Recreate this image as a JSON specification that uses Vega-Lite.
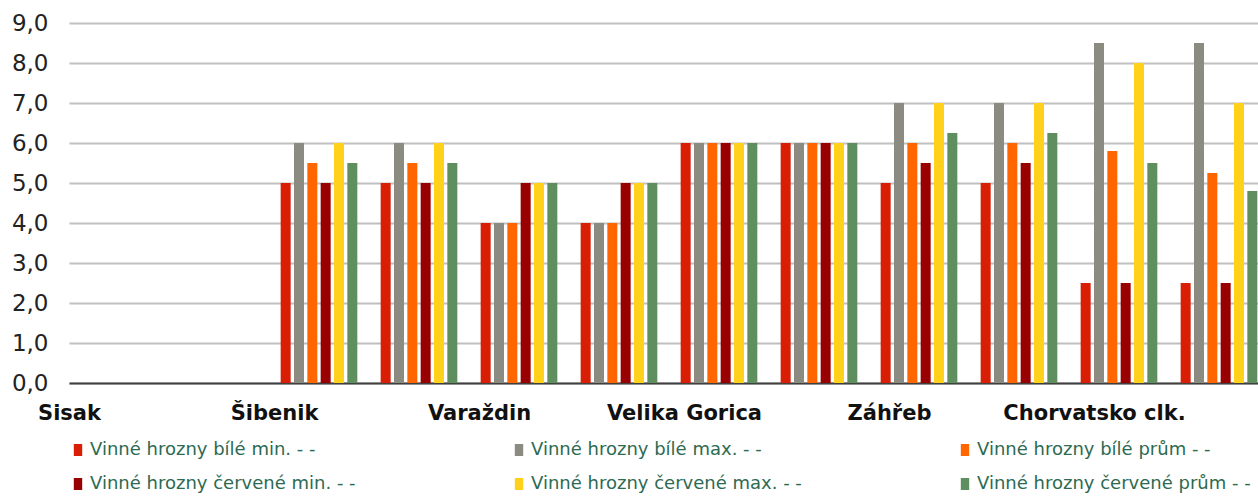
{
  "$schema": "https://vega.github.io/schema/vega-lite/v6.json",
  "width": 1189,
  "height": 360,
  "padding": {"left": 5, "top": 12, "right": 0, "bottom": 0},
  "config": {
    "view": {"stroke": null},
    "font": "DejaVu Sans"
  },
  "data": {
    "values": [
      {"kat": "Šibenik 1", "mesto": "Šibenik", "rada": "Vinné hrozny bílé min. - -", "hodnota": 5},
      {"kat": "Šibenik 1", "mesto": "Šibenik", "rada": "Vinné hrozny bílé max. - -", "hodnota": 6},
      {"kat": "Šibenik 1", "mesto": "Šibenik", "rada": "Vinné hrozny bílé prům - -", "hodnota": 5.5},
      {"kat": "Šibenik 1", "mesto": "Šibenik", "rada": "Vinné hrozny červené min. - -", "hodnota": 5},
      {"kat": "Šibenik 1", "mesto": "Šibenik", "rada": "Vinné hrozny červené max. - -", "hodnota": 6},
      {"kat": "Šibenik 1", "mesto": "Šibenik", "rada": "Vinné hrozny červené prům - -", "hodnota": 5.5},
      {"kat": "Šibenik 2", "mesto": "Šibenik", "rada": "Vinné hrozny bílé min. - -", "hodnota": 5},
      {"kat": "Šibenik 2", "mesto": "Šibenik", "rada": "Vinné hrozny bílé max. - -", "hodnota": 6},
      {"kat": "Šibenik 2", "mesto": "Šibenik", "rada": "Vinné hrozny bílé prům - -", "hodnota": 5.5},
      {"kat": "Šibenik 2", "mesto": "Šibenik", "rada": "Vinné hrozny červené min. - -", "hodnota": 5},
      {"kat": "Šibenik 2", "mesto": "Šibenik", "rada": "Vinné hrozny červené max. - -", "hodnota": 6},
      {"kat": "Šibenik 2", "mesto": "Šibenik", "rada": "Vinné hrozny červené prům - -", "hodnota": 5.5},
      {"kat": "Varaždin 1", "mesto": "Varaždin", "rada": "Vinné hrozny bílé min. - -", "hodnota": 4},
      {"kat": "Varaždin 1", "mesto": "Varaždin", "rada": "Vinné hrozny bílé max. - -", "hodnota": 4},
      {"kat": "Varaždin 1", "mesto": "Varaždin", "rada": "Vinné hrozny bílé prům - -", "hodnota": 4},
      {"kat": "Varaždin 1", "mesto": "Varaždin", "rada": "Vinné hrozny červené min. - -", "hodnota": 5},
      {"kat": "Varaždin 1", "mesto": "Varaždin", "rada": "Vinné hrozny červené max. - -", "hodnota": 5},
      {"kat": "Varaždin 1", "mesto": "Varaždin", "rada": "Vinné hrozny červené prům - -", "hodnota": 5},
      {"kat": "Varaždin 2", "mesto": "Varaždin", "rada": "Vinné hrozny bílé min. - -", "hodnota": 4},
      {"kat": "Varaždin 2", "mesto": "Varaždin", "rada": "Vinné hrozny bílé max. - -", "hodnota": 4},
      {"kat": "Varaždin 2", "mesto": "Varaždin", "rada": "Vinné hrozny bílé prům - -", "hodnota": 4},
      {"kat": "Varaždin 2", "mesto": "Varaždin", "rada": "Vinné hrozny červené min. - -", "hodnota": 5},
      {"kat": "Varaždin 2", "mesto": "Varaždin", "rada": "Vinné hrozny červené max. - -", "hodnota": 5},
      {"kat": "Varaždin 2", "mesto": "Varaždin", "rada": "Vinné hrozny červené prům - -", "hodnota": 5},
      {"kat": "Velika Gorica 1", "mesto": "Velika Gorica", "rada": "Vinné hrozny bílé min. - -", "hodnota": 6},
      {"kat": "Velika Gorica 1", "mesto": "Velika Gorica", "rada": "Vinné hrozny bílé max. - -", "hodnota": 6},
      {"kat": "Velika Gorica 1", "mesto": "Velika Gorica", "rada": "Vinné hrozny bílé prům - -", "hodnota": 6},
      {"kat": "Velika Gorica 1", "mesto": "Velika Gorica", "rada": "Vinné hrozny červené min. - -", "hodnota": 6},
      {"kat": "Velika Gorica 1", "mesto": "Velika Gorica", "rada": "Vinné hrozny červené max. - -", "hodnota": 6},
      {"kat": "Velika Gorica 1", "mesto": "Velika Gorica", "rada": "Vinné hrozny červené prům - -", "hodnota": 6},
      {"kat": "Velika Gorica 2", "mesto": "Velika Gorica", "rada": "Vinné hrozny bílé min. - -", "hodnota": 6},
      {"kat": "Velika Gorica 2", "mesto": "Velika Gorica", "rada": "Vinné hrozny bílé max. - -", "hodnota": 6},
      {"kat": "Velika Gorica 2", "mesto": "Velika Gorica", "rada": "Vinné hrozny bílé prům - -", "hodnota": 6},
      {"kat": "Velika Gorica 2", "mesto": "Velika Gorica", "rada": "Vinné hrozny červené min. - -", "hodnota": 6},
      {"kat": "Velika Gorica 2", "mesto": "Velika Gorica", "rada": "Vinné hrozny červené max. - -", "hodnota": 6},
      {"kat": "Velika Gorica 2", "mesto": "Velika Gorica", "rada": "Vinné hrozny červené prům - -", "hodnota": 6},
      {"kat": "Záhřeb 1", "mesto": "Záhřeb", "rada": "Vinné hrozny bílé min. - -", "hodnota": 5},
      {"kat": "Záhřeb 1", "mesto": "Záhřeb", "rada": "Vinné hrozny bílé max. - -", "hodnota": 7},
      {"kat": "Záhřeb 1", "mesto": "Záhřeb", "rada": "Vinné hrozny bílé prům - -", "hodnota": 6},
      {"kat": "Záhřeb 1", "mesto": "Záhřeb", "rada": "Vinné hrozny červené min. - -", "hodnota": 5.5},
      {"kat": "Záhřeb 1", "mesto": "Záhřeb", "rada": "Vinné hrozny červené max. - -", "hodnota": 7},
      {"kat": "Záhřeb 1", "mesto": "Záhřeb", "rada": "Vinné hrozny červené prům - -", "hodnota": 6.25},
      {"kat": "Záhřeb 2", "mesto": "Záhřeb", "rada": "Vinné hrozny bílé min. - -", "hodnota": 5},
      {"kat": "Záhřeb 2", "mesto": "Záhřeb", "rada": "Vinné hrozny bílé max. - -", "hodnota": 7},
      {"kat": "Záhřeb 2", "mesto": "Záhřeb", "rada": "Vinné hrozny bílé prům - -", "hodnota": 6},
      {"kat": "Záhřeb 2", "mesto": "Záhřeb", "rada": "Vinné hrozny červené min. - -", "hodnota": 5.5},
      {"kat": "Záhřeb 2", "mesto": "Záhřeb", "rada": "Vinné hrozny červené max. - -", "hodnota": 7},
      {"kat": "Záhřeb 2", "mesto": "Záhřeb", "rada": "Vinné hrozny červené prům - -", "hodnota": 6.25},
      {"kat": "Chorvatsko clk. 1", "mesto": "Chorvatsko clk.", "rada": "Vinné hrozny bílé min. - -", "hodnota": 2.5},
      {"kat": "Chorvatsko clk. 1", "mesto": "Chorvatsko clk.", "rada": "Vinné hrozny bílé max. - -", "hodnota": 8.5},
      {"kat": "Chorvatsko clk. 1", "mesto": "Chorvatsko clk.", "rada": "Vinné hrozny bílé prům - -", "hodnota": 5.8},
      {"kat": "Chorvatsko clk. 1", "mesto": "Chorvatsko clk.", "rada": "Vinné hrozny červené min. - -", "hodnota": 2.5},
      {"kat": "Chorvatsko clk. 1", "mesto": "Chorvatsko clk.", "rada": "Vinné hrozny červené max. - -", "hodnota": 8},
      {"kat": "Chorvatsko clk. 1", "mesto": "Chorvatsko clk.", "rada": "Vinné hrozny červené prům - -", "hodnota": 5.5},
      {"kat": "Chorvatsko clk. 2", "mesto": "Chorvatsko clk.", "rada": "Vinné hrozny bílé min. - -", "hodnota": 2.5},
      {"kat": "Chorvatsko clk. 2", "mesto": "Chorvatsko clk.", "rada": "Vinné hrozny bílé max. - -", "hodnota": 8.5},
      {"kat": "Chorvatsko clk. 2", "mesto": "Chorvatsko clk.", "rada": "Vinné hrozny bílé prům - -", "hodnota": 5.25},
      {"kat": "Chorvatsko clk. 2", "mesto": "Chorvatsko clk.", "rada": "Vinné hrozny červené min. - -", "hodnota": 2.5},
      {"kat": "Chorvatsko clk. 2", "mesto": "Chorvatsko clk.", "rada": "Vinné hrozny červené max. - -", "hodnota": 7},
      {"kat": "Chorvatsko clk. 2", "mesto": "Chorvatsko clk.", "rada": "Vinné hrozny červené prům - -", "hodnota": 4.8}
    ]
  },
  "layer": [
    {
      "mark": {"type": "bar", "clip": true},
      "encoding": {
        "x": {
          "field": "kat",
          "type": "nominal",
          "sort": null,
          "scale": {
            "domain": ["Sisak 1", "Sisak 2", "Šibenik 1", "Šibenik 2", "Varaždin 1", "Varaždin 2", "Velika Gorica 1", "Velika Gorica 2", "Záhřeb 1", "Záhřeb 2", "Chorvatsko clk. 1", "Chorvatsko clk. 2"],
            "range": [0, 1200],
            "paddingInner": 0.2,
            "paddingOuter": 0.1
          },
          "axis": {
            "title": null,
            "labels": false,
            "ticks": false,
            "grid": false,
            "domain": true,
            "domainColor": "#404040",
            "domainWidth": 2
          }
        },
        "xOffset": {
          "field": "rada",
          "type": "nominal",
          "sort": null,
          "scale": {
            "domain": ["Vinné hrozny bílé min. - -", "Vinné hrozny bílé max. - -", "Vinné hrozny bílé prům - -", "Vinné hrozny červené min. - -", "Vinné hrozny červené max. - -", "Vinné hrozny červené prům - -"],
            "paddingInner": 0.25,
            "paddingOuter": 0.125
          }
        },
        "y": {
          "field": "hodnota",
          "type": "quantitative",
          "scale": {"domain": [0, 9], "nice": false},
          "axis": {
            "title": null,
            "values": [0, 1, 2, 3, 4, 5, 6, 7, 8, 9],
            "labelExpr": "replace(format(datum.value, '.1f'), '.', ',')",
            "labelFontSize": 23,
            "labelColor": "#222222",
            "labelPadding": 21,
            "ticks": false,
            "tickSize": 0,
            "domain": false,
            "grid": true,
            "gridColor": "#c0c0c0",
            "gridWidth": 2,
            "minExtent": 64,
            "maxExtent": 64
          }
        },
        "color": {
          "field": "rada",
          "type": "nominal",
          "sort": null,
          "scale": {
            "domain": ["Vinné hrozny bílé min. - -", "Vinné hrozny bílé max. - -", "Vinné hrozny bílé prům - -", "Vinné hrozny červené min. - -", "Vinné hrozny červené max. - -", "Vinné hrozny červené prům - -"],
            "range": ["#d81e05", "#8c8b82", "#ff6600", "#990000", "#ffd11a", "#5f8f5f"]
          },
          "legend": {
            "title": null,
            "orient": "bottom",
            "direction": "horizontal",
            "columns": 3,
            "symbolType": "M-0.7,-1H0.7V1H-0.7Z",
            "symbolSize": 144,
            "symbolStrokeWidth": 0,
            "labelFontSize": 18,
            "labelColor": "#2d6a52",
            "labelLimit": 400,
            "labelOffset": 3,
            "columnPadding": 154,
            "rowPadding": 16,
            "offset": 18
          }
        }
      }
    },
    {
      "mark": {"type": "point", "opacity": 0},
      "encoding": {
        "x": {
          "field": "mesto",
          "type": "nominal",
          "sort": null,
          "scale": {
            "type": "point",
            "domain": ["Sisak", "Šibenik", "Varaždin", "Velika Gorica", "Záhřeb", "Chorvatsko clk."],
            "padding": 0.4,
            "align": 0
          },
          "axis": {
            "orient": "bottom",
            "title": null,
            "ticks": false,
            "tickSize": 0,
            "domain": false,
            "grid": false,
            "labelFontSize": 21,
            "labelFontWeight": "bold",
            "labelColor": "#111111",
            "labelPadding": 19,
            "labelLimit": 400,
            "labelOverlap": false,
            "labelFlush": false,
            "labelBound": false,
            "labelAngle": 0
          }
        }
      }
    }
  ],
  "resolve": {"scale": {"x": "independent"}, "axis": {"x": "independent"}}
}
